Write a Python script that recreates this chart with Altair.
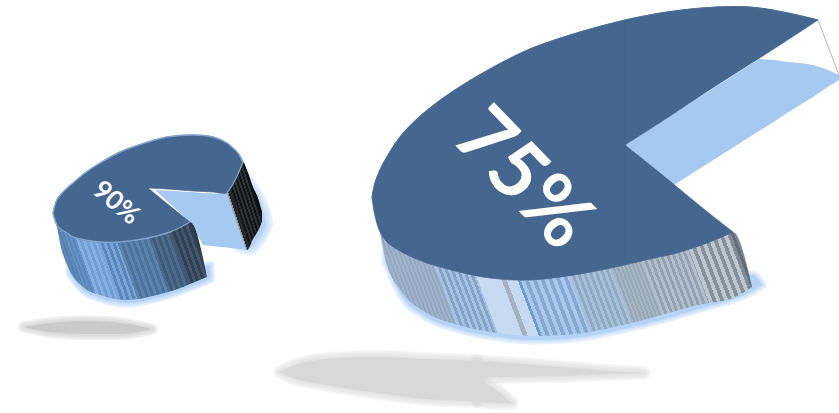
import altair as alt
import pandas as pd

W, H = 839, 413

# Outlines of the small pie (pixel-scale values), split at the notch
small_left_x = [53, 55, 58, 67, 73, 85, 100, 120, 148]
small_left_top = [213, 205, 198, 188, 183, 173, 163, 152, 142]
small_left_bot = [213, 220, 227, 233, 237, 240, 242, 242, 238]
small_upper_x = [148, 167, 193, 213, 227, 233, 238, 243]
small_upper_top = [142, 137, 135, 137, 143, 148, 153, 162]
small_upper_bot = [188, 189, 191, 192, 193, 184, 174, 162]
small_lower_x = [148, 170, 190]
small_lower_top = [188, 206, 222]
small_lower_bot = [238, 232, 222]
small_wall_x = [57, 60, 68, 83, 100, 127, 157, 183, 190, 207]
small_wall_top = [225, 228, 232, 236, 239, 239, 233, 224, 222, 277]
small_wall_bot = [227, 243, 267, 287, 295, 300, 295, 287, 284, 277]
small_back_x = [227, 232, 236, 243, 247, 253, 258, 262]
small_back_top = [193, 178, 170, 162, 170, 187, 198, 212]
small_back_bot = [193, 208, 220, 240, 250, 239, 231, 222]
small_floor_x = [155, 190, 203, 230, 247]
small_floor_top = [190, 192, 193, 194, 195]
small_floor_bot = [190, 222, 245, 248, 250]
small_halo_x = [70, 83, 100, 127, 157, 183, 210]
small_halo_top = [258, 275, 285, 290, 285, 275, 265]
small_halo_bot = [274, 290, 298, 303, 298, 290, 279]
small_halo_back_x = [240, 250, 258, 263, 266]
small_halo_back_top = [170, 186, 198, 210, 224]
small_halo_back_bot = [245, 248, 240, 232, 224]
small_shadow_x = [24, 50, 85, 120, 152]
small_shadow_top = [327, 323, 321, 323, 329]
small_shadow_bot = [327, 332, 334, 334, 329]

# Outlines of the large pie
big_left_x = [372, 375, 380, 388, 400, 414, 430, 455, 490, 530, 580, 625]
big_left_top = [198, 183, 170, 155, 137, 122, 108, 90, 69, 49, 32, 20]
big_left_bot = [198, 216, 232, 243, 251, 258, 264, 271, 278, 280, 274, 265]
big_upper_x = [625, 667, 717, 750, 783, 818]
big_upper_top = [20, 12, 7, 7, 12, 20]
big_upper_bot = [145, 118, 85, 64, 43, 20]
big_lower_x = [625, 650, 677, 710, 733]
big_lower_top = [145, 165, 187, 214, 232]
big_lower_bot = [265, 259, 253, 242, 232]
big_wall_x = [380, 385, 402, 425, 458, 498, 533, 565, 632, 698, 733, 752]
big_wall_top = [226, 232, 246, 254, 266, 274, 275, 270, 259, 240, 232, 287]
big_wall_bot = [232, 258, 292, 312, 325, 333, 336, 335, 323, 305, 298, 287]
big_floor_x = [625, 759, 775, 787, 800, 813, 826, 839]
big_floor_top = [145, 59, 60, 62, 63, 65, 69, 75]
big_floor_bot = [216, 131, 121, 113, 105, 97, 88, 80]
big_halo_x = [386, 402, 425, 458, 498, 533, 565, 632, 698, 752, 762]
big_halo_top = [240, 270, 295, 310, 320, 325, 325, 312, 295, 275, 285]
big_halo_bot = [262, 296, 316, 329, 337, 340, 339, 327, 309, 291, 285]
big_rule = {"x": [818], "x2": [839], "y": [20], "y2": [75]}

# Ground shadow under the large pie
shadow_left_x = [280, 293, 327, 377, 427, 477]
shadow_left_top = [372, 366, 359, 357, 359, 361]
shadow_left_bot = [372, 378, 385, 393, 399, 401]
shadow_right_x = [477, 493, 560, 610, 644]
shadow_right_top = [361, 362, 367, 371, 373]
shadow_right_bot = [378, 377, 376, 374, 373]
shadow_tail_x = [477, 496, 512]
shadow_tail_top = [378, 390, 403]
shadow_tail_bot = [401, 403, 403]

# Side-wall stripe bands: width along the wall, stripe period, two alternating colours
small_bands = [
    (31, 2, "#5f8aba", "#557fae"), (10, 2, "#6491c6", "#5a86ba"),
    (20, 3, "#86b2e3", "#6f9dd4"), (20, 3, "#7aa5da", "#5a86ba"),
    (33, 3, "#5a83b0", "#4e7199"), (23, 3, "#4d6c8d", "#3e5a78"),
    (24, 3, "#42566d", "#303f52"), (17, 2, "#2c3846", "#222c38"),
]
back_bands = [
    (19, 19, "#8d8f92", "#8d8f92"), (2, 2, "#8d8f92", "#8d8f92"),
    (4, 4, "#24262a", "#24262a"), (22, 2, "#131416", "#2e3034"),
    (19, 19, "#0c0c0e", "#0c0c0e"),
]
big_bands = [
    (81, 2, "#a0b4cb", "#92a7c0"), (38, 3, "#a7c2e2", "#86a3c6"),
    (24, 24, "#c6daf2", "#c6daf2"), (5, 5, "#a6b2c1", "#a6b2c1"),
    (11, 11, "#c6daf2", "#c6daf2"), (3, 3, "#6e9ad0", "#6e9ad0"),
    (50, 4, "#aac8ee", "#86a9d4"), (45, 3, "#a9c0da", "#90a9c5"),
    (33, 2, "#a8b5c3", "#98a7b8"), (52, 3, "#b3bfcc", "#94a1b0"),
    (45, 4, "#bec7d0", "#86919e"), (27, 3, "#7d8894", "#626c78"),
]

# Labels
labels = ["90%", "75%"]
label_x = [116, 522]
label_y = [203, 180]

FACE = "#44668f"
FLOOR = "#a6c9f2"
GREY = "#d8d8d8"

x_scale = alt.Scale(domain=[0, W], range=[0, W])
y_scale = alt.Scale(domain=[H, 0], range=[H, 0])


def frame(xs, tops, bots):
    return pd.DataFrame({"x": xs, "top": tops, "bot": bots})


def area(xs, tops, bots, interpolate="monotone", **style):
    return alt.Chart(frame(xs, tops, bots)).mark_area(interpolate=interpolate, **style).encode(
        x=alt.X("x:Q", scale=x_scale, axis=None),
        y=alt.Y("top:Q", scale=y_scale, axis=None),
        y2="bot:Q",
    )


def soft(pieces, color, widths=(11, 7, 3), opacity=0.3):
    """Feathered fill: wide translucent outlines below an opaque body."""
    layers = []
    for w in widths:
        for p in pieces:
            layers.append(area(*p, fill="transparent", stroke=color,
                               strokeWidth=w, strokeOpacity=opacity, strokeJoin="round"))
    for p in pieces:
        layers.append(area(*p, fill=color))
    return layers


def stripes(xs, tops, bots, bands, slant):
    """Slanted stripe gradient for a side wall, given in bounding-box units."""
    bw = max(xs) - min(xs)
    bh = max(bots) - min(tops)
    span = bw + slant * bh
    k = span / (bw ** 2 + (slant * bh) ** 2)
    total = sum(b[0] for b in bands)
    stops = []
    pos = 0.0
    for width, period, c1, c2 in bands:
        i = 0
        done = 0.0
        while done < width - 1e-6:
            step = min(period, width - done)
            colour = c1 if i % 2 == 0 else c2
            stops.append({"offset": round((pos + done) / total, 5), "color": colour})
            stops.append({"offset": round((pos + done + step) / total, 5), "color": colour})
            done += step
            i += 1
        pos += width
    return {
        "gradient": "linear",
        "x1": 0, "y1": 1,
        "x2": k * bw, "y2": 1 - k * slant * bh,
        "stops": stops,
    }


def wall(xs, tops, bots, bands, slant):
    return area(xs, tops, bots, fill=stripes(xs, tops, bots, bands, slant))


def face(xs, tops, bots):
    return area(xs, tops, bots, interpolate="catmull-rom", fill=FACE, stroke=FACE, strokeWidth=0.7)


def rim(xs, ys, color, width):
    return alt.Chart(pd.DataFrame({"x": xs, "y": ys})).mark_line(
        interpolate="catmull-rom", color=color, strokeWidth=width
    ).encode(x=alt.X("x:Q", scale=x_scale, axis=None), y=alt.Y("y:Q", scale=y_scale, axis=None))


def label(i, size, angle):
    return alt.Chart(pd.DataFrame({"x": [label_x[i]], "y": [label_y[i]], "t": [labels[i]]})).mark_text(
        font="Lato", fontSize=size, fontWeight="bold", angle=angle, color="white",
        align="center", baseline="middle",
    ).encode(
        x=alt.X("x:Q", scale=x_scale, axis=None),
        y=alt.Y("y:Q", scale=y_scale, axis=None),
        text="t:N",
    )


layers = []

# Ground shadows
layers += soft([(small_shadow_x, small_shadow_top, small_shadow_bot)],
               "#cacaca", widths=(12, 9, 6, 3), opacity=0.22)
layers += soft(
    [(shadow_left_x, shadow_left_top, shadow_left_bot),
     (shadow_right_x, shadow_right_top, shadow_right_bot),
     (shadow_tail_x, shadow_tail_top, shadow_tail_bot)],
    GREY, widths=(14, 11, 8, 5, 2), opacity=0.2,
)

# Small pie
layers += soft([(small_halo_x, small_halo_top, small_halo_bot)], "#b4d3f6", widths=(9, 6, 3), opacity=0.35)
layers += soft([(small_halo_back_x, small_halo_back_top, small_halo_back_bot)], "#b4d3f6", widths=(14, 9, 4), opacity=0.35)
layers.append(area(small_floor_x, small_floor_top, small_floor_bot, interpolate="linear", fill=FLOOR))
layers.append(wall(small_back_x, small_back_top, small_back_bot, back_bands, 0.33))
layers.append(wall(small_wall_x, small_wall_top, small_wall_bot, small_bands, 0.36))
layers.append(face(small_left_x, small_left_top, small_left_bot))
layers.append(face(small_upper_x, small_upper_top, small_upper_bot))
layers.append(face(small_lower_x, small_lower_top, small_lower_bot))
layers.append(rim(small_left_x + small_upper_x[1:], small_left_top + small_upper_top[1:], "#7fa5cf", 1.4))
layers.append(rim(small_left_x + small_lower_x[1:], small_left_bot + small_lower_bot[1:], "#7fa5cf", 1.4))
layers.append(rim(small_upper_x[4:], small_upper_bot[4:], "#7fa5cf", 1.2))
layers.append(label(0, 26, 40))

# Large pie
layers += soft([(big_halo_x, big_halo_top, big_halo_bot)], "#b4d3f6", widths=(9, 5, 2), opacity=0.35)
layers.append(area(big_floor_x, big_floor_top, big_floor_bot, interpolate="linear", fill=FLOOR))
layers.append(
    alt.Chart(pd.DataFrame(big_rule)).mark_rule(color="#b4b4b4", strokeWidth=1).encode(
        x=alt.X("x:Q", scale=x_scale, axis=None), x2="x2:Q",
        y=alt.Y("y:Q", scale=y_scale, axis=None), y2="y2:Q",
    )
)
layers.append(wall(big_wall_x, big_wall_top, big_wall_bot, big_bands, 0.38))
layers.append(face(big_left_x, big_left_top, big_left_bot))
layers.append(face(big_upper_x, big_upper_top, big_upper_bot))
layers.append(face(big_lower_x, big_lower_top, big_lower_bot))
layers.append(rim(big_left_x + big_upper_x[1:], big_left_top + big_upper_top[1:], "#4b6e98", 1.2))
layers.append(label(1, 80, 46))

chart = alt.layer(*layers).properties(
    width=W, height=H, padding=0, autosize=alt.AutoSizeParams(type="none"), background="white",
).configure_view(stroke=None)

chart.save("out.html", embed_options={"renderer": "svg", "actions": False})
